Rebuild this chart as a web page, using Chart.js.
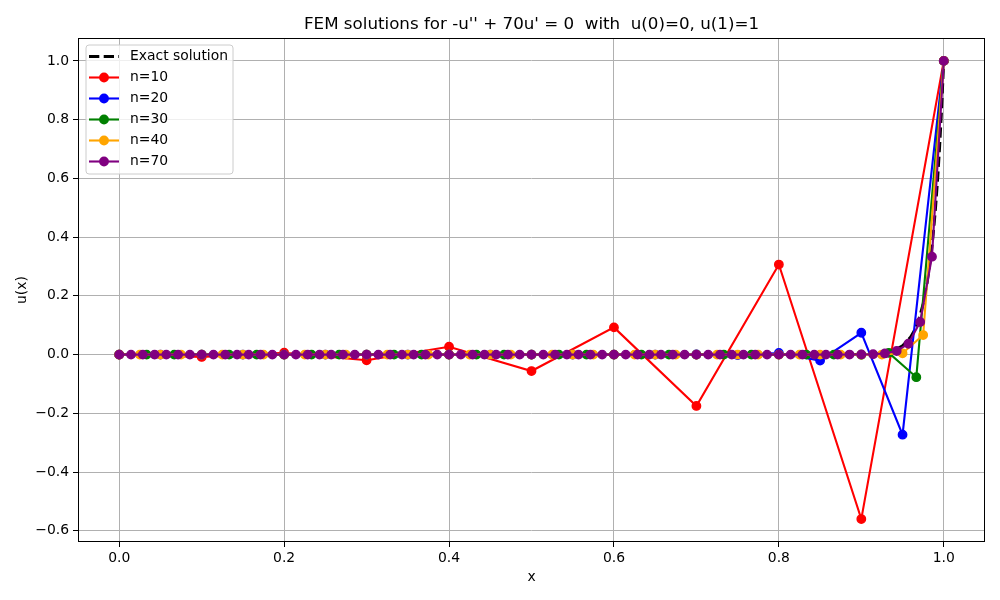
<!DOCTYPE html>
<html>
<head>
<meta charset="utf-8">
<script src="https://cdn.jsdelivr.net/npm/chart.js@4.4.1/dist/chart.umd.min.js"></script>
<style>
html, body { margin: 0; padding: 0; background: #fff; }
</style>
</head>
<body>
<canvas id="femChart" width="1000" height="600"></canvas>
<script>
// node positions and nodal values
const x10 = [0, 0.1, 0.2, 0.3, 0.4, 0.5, 0.6, 0.7, 0.8, 0.9, 1.0];
const y10 = [0, -0.0079, 0.0063, -0.0192, 0.0267, -0.0559, 0.0927, -0.1748, 0.3067, -0.5599, 1];

const x20 = [0, 0.05, 0.1, 0.15, 0.2, 0.25, 0.3, 0.35, 0.4, 0.45, 0.5, 0.55, 0.6, 0.65, 0.7, 0.75, 0.8, 0.85, 0.9, 0.95, 1.0];
const y20 = [0, 0, 0, 0, 0, 0, 0, 0, 0, 0, 0, 0, 0, 0, 0.0004, -0.0015, 0.0055, -0.0203, 0.0744, -0.2727, 1];

const x30 = [0, 0.0333, 0.0667, 0.1, 0.1333, 0.1667, 0.2, 0.2333, 0.2667, 0.3, 0.3333, 0.3667, 0.4, 0.4333, 0.4667, 0.5,
    0.5333, 0.5667, 0.6, 0.6333, 0.6667, 0.7, 0.7333, 0.7667, 0.8, 0.8333, 0.8667, 0.9, 0.9333, 0.9667, 1.0];
const y30 = [0, 0, 0, 0, 0, 0, 0, 0, 0, 0, 0, 0, 0, 0, 0, 0,
    0, 0, 0, 0, 0, 0, 0, 0, 0, 0, 0, -0.0005, 0.0059, -0.0769, 1];

const x40 = [0, 0.025, 0.05, 0.075, 0.1, 0.125, 0.15, 0.175, 0.2, 0.225, 0.25, 0.275, 0.3, 0.325, 0.35, 0.375, 0.4, 0.425, 0.45, 0.475, 0.5,
    0.525, 0.55, 0.575, 0.6, 0.625, 0.65, 0.675, 0.7, 0.725, 0.75, 0.775, 0.8, 0.825, 0.85, 0.875, 0.9, 0.925, 0.95, 0.975, 1.0];
const y40 = [0, 0, 0, 0, 0, 0, 0, 0, 0, 0, 0, 0, 0, 0, 0, 0, 0, 0, 0, 0, 0,
    0, 0, 0, 0, 0, 0, 0, 0, 0, 0, 0, 0, 0, 0, 0, 0, 0.0003, 0.0044, 0.0667, 1];

const x70 = [0, 0.0143, 0.0286, 0.0429, 0.0571, 0.0714, 0.0857, 0.1, 0.1143, 0.1286, 0.1429, 0.1571, 0.1714, 0.1857,
    0.2, 0.2143, 0.2286, 0.2429, 0.2571, 0.2714, 0.2857, 0.3, 0.3143, 0.3286, 0.3429, 0.3571, 0.3714, 0.3857,
    0.4, 0.4143, 0.4286, 0.4429, 0.4571, 0.4714, 0.4857, 0.5, 0.5143, 0.5286, 0.5429, 0.5571, 0.5714, 0.5857,
    0.6, 0.6143, 0.6286, 0.6429, 0.6571, 0.6714, 0.6857, 0.7, 0.7143, 0.7286, 0.7429, 0.7571, 0.7714, 0.7857,
    0.8, 0.8143, 0.8286, 0.8429, 0.8571, 0.8714, 0.8857, 0.9, 0.9143, 0.9286, 0.9429, 0.9571, 0.9714, 0.9857, 1.0];
const y70 = [0, 0, 0, 0, 0, 0, 0, 0, 0, 0, 0, 0, 0, 0,
    0, 0, 0, 0, 0, 0, 0, 0, 0, 0, 0, 0, 0, 0,
    0, 0, 0, 0, 0, 0, 0, 0, 0, 0, 0, 0, 0, 0,
    0, 0, 0, 0, 0, 0, 0, 0, 0, 0, 0, 0, 0, 0,
    0, 0, 0, 0, 0, 0, 0.0002, 0.0005, 0.0014, 0.0041, 0.0123, 0.0370, 0.1111, 0.3333, 1];

// exact solution, sampled where it leaves zero
const xExact = [0, 0.85, 0.88, 0.9, 0.92, 0.93, 0.94, 0.95, 0.96, 0.965, 0.97, 0.975, 0.98, 0.985, 0.9875, 0.99, 0.9925, 0.995, 0.9975, 1.0];
const yExact = [0, 0, 0.0002, 0.0009, 0.0037, 0.0075, 0.015, 0.0302, 0.0608, 0.0863, 0.1225, 0.1738, 0.2466, 0.3499, 0.4169, 0.4966, 0.5916, 0.7047, 0.8395, 1];

const xTicks = [0, 0.2, 0.4, 0.6, 0.8, 1.0];
const yTicks = [-0.6, -0.4, -0.2, 0, 0.2, 0.4, 0.6, 0.8, 1.0];

const FONT = "'DejaVu Sans', sans-serif";

function pts(xs, ys) {
    return xs.map((x, i) => ({ x: x, y: ys[i] }));
}

function fem(label, xs, ys, color, order) {
    return {
        label: label,
        data: pts(xs, ys),
        borderColor: color,
        backgroundColor: color,
        borderWidth: 2.1,
        pointRadius: 4.2,
        pointBorderWidth: 1.4,
        pointBackgroundColor: color,
        pointBorderColor: color,
        tension: 0,
        order: order
    };
}

const datasets = [
    {
        label: "Exact solution",
        data: pts(xExact, yExact),
        borderColor: "#000",
        borderWidth: 2.8,
        borderDash: [10.3, 4.4],
        pointRadius: 0,
        tension: 0,
        order: 5
    },
    fem("n=10", x10, y10, "#ff0000", 4),
    fem("n=20", x20, y20, "#0000ff", 3),
    fem("n=30", x30, y30, "#008000", 2),
    fem("n=40", x40, y40, "#ffa500", 1),
    fem("n=70", x70, y70, "#800080", 0)
];

// frame, title, axis labels and a matplotlib-like legend inside the axes
const decor = {
    id: "decor",
    afterDraw(chart) {
        const ctx = chart.ctx;
        const a = chart.chartArea;
        ctx.save();

        ctx.strokeStyle = "#000";
        ctx.lineWidth = 1;
        ctx.strokeRect(Math.round(a.left) + 0.5, Math.round(a.top) + 0.5,
            Math.round(a.right - a.left) - 1, Math.round(a.bottom - a.top) - 1);

        ctx.fillStyle = "#000";
        ctx.textAlign = "center";
        ctx.textBaseline = "alphabetic";
        ctx.font = "16.7px " + FONT;
        ctx.fillText("FEM solutions for -u'' + 70u' = 0  with  u(0)=0, u(1)=1", (a.left + a.right) / 2, a.top - 9);

        ctx.font = "13.9px " + FONT;
        ctx.textBaseline = "middle";
        ctx.fillText("x", (a.left + a.right) / 2, 577);
        ctx.save();
        ctx.translate(22, (a.top + a.bottom) / 2);
        ctx.rotate(-Math.PI / 2);
        ctx.fillText("u(x)", 0, 0);
        ctx.restore();

        // legend box
        const bx = a.left + 8, by = a.top + 7, bw = 147, bh = 129, r = 3;
        ctx.beginPath();
        ctx.moveTo(bx + r, by);
        ctx.arcTo(bx + bw, by, bx + bw, by + bh, r);
        ctx.arcTo(bx + bw, by + bh, bx, by + bh, r);
        ctx.arcTo(bx, by + bh, bx, by, r);
        ctx.arcTo(bx, by, bx + bw, by, r);
        ctx.closePath();
        ctx.fillStyle = "rgba(255,255,255,0.8)";
        ctx.fill();
        ctx.strokeStyle = "#cccccc";
        ctx.lineWidth = 1;
        ctx.stroke();

        chart.data.datasets.forEach((ds, i) => {
            const cy = by + 11.5 + i * 21;
            const hx0 = bx + 3, hx1 = bx + 33;
            ctx.beginPath();
            ctx.moveTo(hx0, cy);
            ctx.lineTo(hx1, cy);
            ctx.strokeStyle = ds.borderColor;
            ctx.lineWidth = ds.borderWidth;
            ctx.setLineDash(ds.borderDash || []);
            ctx.stroke();
            ctx.setLineDash([]);
            if (ds.pointRadius > 0) {
                ctx.beginPath();
                ctx.arc((hx0 + hx1) / 2, cy, ds.pointRadius + 0.7, 0, Math.PI * 2);
                ctx.fillStyle = ds.borderColor;
                ctx.fill();
            }
            ctx.fillStyle = "#000";
            ctx.textAlign = "left";
            ctx.textBaseline = "middle";
            ctx.font = "13.9px " + FONT;
            ctx.fillText(ds.label, bx + 44, cy);
        });

        ctx.restore();
    }
};

function fmt(v) {
    return v.toFixed(1).replace("-", "\u2212");
}

let femChart = new Chart(document.getElementById("femChart").getContext("2d"), {
    type: "line",
    data: { datasets: datasets },
    plugins: [decor],
    options: {
        responsive: false,
        animation: false,
        devicePixelRatio: 1,
        layout: { padding: { top: 38, right: 15, left: 0, bottom: 0 } },
        plugins: {
            legend: { display: false },
            title: { display: false },
            tooltip: { enabled: false }
        },
        scales: {
            x: {
                type: "linear",
                min: -0.05,
                max: 1.05,
                afterBuildTicks: s => { s.ticks = xTicks.map(v => ({ value: v })); },
                afterFit: s => { s.height = 58; },
                grid: { color: "#b0b0b0", lineWidth: 1, tickColor: "#000", tickLength: 5 },
                border: { display: false },
                ticks: {
                    color: "#000",
                    font: { family: FONT, size: 13.9 },
                    padding: 3,
                    maxRotation: 0,
                    callback: v => fmt(v)
                }
            },
            y: {
                type: "linear",
                min: -0.638,
                max: 1.078,
                afterBuildTicks: s => { s.ticks = yTicks.map(v => ({ value: v })); },
                afterFit: s => { s.width = 78; },
                grid: { color: "#b0b0b0", lineWidth: 1, tickColor: "#000", tickLength: 5 },
                border: { display: false },
                ticks: {
                    color: "#000",
                    font: { family: FONT, size: 13.9 },
                    padding: 4,
                    callback: v => fmt(v)
                }
            }
        }
    }
});
</script>
</body>
</html>
